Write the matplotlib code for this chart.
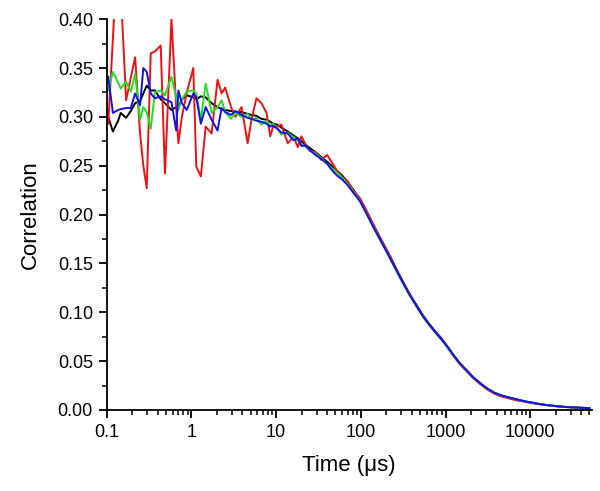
import matplotlib
matplotlib.use("Agg")
import matplotlib.pyplot as plt
from matplotlib.ticker import MultipleLocator, LogLocator, NullFormatter

plt.rcParams['font.family'] = ['Liberation Sans', 'DejaVu Sans']

# lag times (us), shared by all four curves
t_early = [0.104, 0.118, 0.136, 0.146, 0.169, 0.192, 0.216, 0.247, 0.27, 0.296,
           0.33, 0.37, 0.433, 0.486, 0.58, 0.66, 0.70, 0.77, 0.88, 1.05,
           1.14, 1.29, 1.47, 1.73, 2.03, 2.27, 2.5, 2.93, 3.3, 3.9,
           4.6, 5.1, 5.85, 6.7, 7.7, 8.5, 9.2]
t_late = [10.3, 11.5, 13.7, 16, 18, 19.9, 21.8, 25, 29, 34,
          40, 45, 52, 60, 70, 82, 97, 115, 135, 160,
          190, 225, 270, 320, 380, 450, 530, 630, 750, 900,
          1070, 1270, 1500, 1800, 2150, 2600, 3100, 3700, 4500, 5500,
          6800, 8500, 10500, 13000, 16500, 21000, 27000, 35000, 50000]
time = t_early + t_late

red = [0.293, 0.38, 0.48, 0.43, 0.317, 0.34, 0.361, 0.283, 0.25, 0.227,
       0.365, 0.367, 0.373, 0.242, 0.40, 0.31, 0.273, 0.30, 0.325, 0.35,
       0.249, 0.239, 0.29, 0.283, 0.338, 0.324, 0.33, 0.31, 0.30, 0.31,
       0.273, 0.297, 0.319, 0.314, 0.304, 0.28, 0.29,
       0.29, 0.292, 0.273, 0.28, 0.269, 0.28, 0.273, 0.265, 0.264, 0.256,
       0.261, 0.254, 0.245, 0.238, 0.234, 0.224, 0.217, 0.205, 0.193, 0.180,
       0.168, 0.156, 0.142, 0.129, 0.118, 0.107, 0.097, 0.088, 0.080, 0.072,
       0.063, 0.054, 0.046, 0.039, 0.032, 0.026, 0.021, 0.017, 0.014, 0.012,
       0.010, 0.0085, 0.007, 0.0058, 0.0047, 0.0037, 0.003, 0.0025, 0.0015]

black = [0.30, 0.285, 0.296, 0.304, 0.299, 0.306, 0.314, 0.316, 0.324, 0.332,
         0.327, 0.327, 0.318, 0.314, 0.307, 0.31, 0.31, 0.318, 0.322, 0.32,
         0.318, 0.321, 0.32, 0.314, 0.31, 0.308, 0.307, 0.306, 0.305, 0.305,
         0.303, 0.302, 0.301, 0.298, 0.297, 0.295, 0.293,
         0.292, 0.289, 0.285, 0.281, 0.278, 0.275, 0.272, 0.268, 0.264, 0.259,
         0.254, 0.250, 0.245, 0.240, 0.233, 0.225, 0.216, 0.204, 0.192, 0.180,
         0.168, 0.156, 0.142, 0.130, 0.118, 0.108, 0.098, 0.089, 0.081, 0.073,
         0.064, 0.055, 0.047, 0.040, 0.033, 0.027, 0.022, 0.018, 0.015, 0.013,
         0.011, 0.009, 0.0075, 0.006, 0.0048, 0.0038, 0.003, 0.0025, 0.002]

green = [0.327, 0.346, 0.335, 0.329, 0.336, 0.326, 0.344, 0.297, 0.31, 0.305,
         0.288, 0.325, 0.327, 0.322, 0.341, 0.32, 0.307, 0.318, 0.326, 0.327,
         0.324, 0.297, 0.334, 0.304, 0.31, 0.317, 0.305, 0.298, 0.304, 0.30,
         0.303, 0.297, 0.299, 0.292, 0.296, 0.291, 0.293,
         0.288, 0.282, 0.284, 0.279, 0.276, 0.272, 0.270, 0.266, 0.262, 0.258,
         0.252, 0.248, 0.243, 0.238, 0.231, 0.223, 0.214, 0.202, 0.190, 0.178,
         0.166, 0.154, 0.140, 0.128, 0.117, 0.106, 0.097, 0.088, 0.080, 0.072,
         0.063, 0.055, 0.047, 0.040, 0.033, 0.027, 0.022, 0.018, 0.015, 0.013,
         0.011, 0.009, 0.0075, 0.006, 0.0048, 0.0038, 0.003, 0.0024, 0.0018]

blue = [0.341, 0.304, 0.307, 0.308, 0.309, 0.309, 0.324, 0.312, 0.35, 0.346,
        0.324, 0.319, 0.321, 0.318, 0.315, 0.286, 0.327, 0.314, 0.307, 0.324,
        0.32, 0.293, 0.31, 0.297, 0.286, 0.309, 0.305, 0.302, 0.306, 0.302,
        0.299, 0.298, 0.296, 0.295, 0.293, 0.29, 0.291,
        0.288, 0.284, 0.283, 0.276, 0.278, 0.270, 0.271, 0.266, 0.261, 0.257,
        0.252, 0.246, 0.240, 0.236, 0.230, 0.222, 0.214, 0.202, 0.190, 0.178,
        0.166, 0.154, 0.141, 0.129, 0.117, 0.107, 0.097, 0.088, 0.080, 0.072,
        0.064, 0.055, 0.047, 0.040, 0.033, 0.027, 0.022, 0.018, 0.015, 0.013,
        0.011, 0.009, 0.0075, 0.006, 0.0048, 0.0038, 0.003, 0.0025, 0.0018]

xtick_vals = [0.1, 1, 10, 100, 1000, 10000]
xtick_labels = ["0.1", "1", "10", "100", "1000", "10000"]

fig = plt.figure(figsize=(6.0, 4.91), dpi=100)
ax = fig.add_axes([0.178, 0.165, 0.808, 0.796])

ax.plot(time, black, color='black', lw=1.4)
ax.plot(time, red, color='#ee1111', lw=1.4)
ax.plot(time, green, color='#22dd22', lw=1.4)
ax.plot(time, blue, color='#1111ee', lw=1.4)

ax.set_xscale('log')
ax.set_xlim(0.1, 53000)
ax.set_ylim(0, 0.40)

ax.set_xticks(xtick_vals)
ax.set_xticklabels(xtick_labels)
ax.xaxis.set_minor_locator(LogLocator(base=10, subs=range(2, 10)))
ax.xaxis.set_minor_formatter(NullFormatter())
ax.yaxis.set_major_locator(MultipleLocator(0.05))
ax.yaxis.set_minor_locator(MultipleLocator(0.025))
ax.yaxis.set_major_formatter(plt.FormatStrFormatter('%.2f'))

for s in ['top', 'right']:
    ax.spines[s].set_visible(False)
for s in ['left', 'bottom']:
    ax.spines[s].set_linewidth(1.3)

ax.tick_params(which='major', direction='out', length=6, width=1.3, labelsize=13, pad=4)
ax.tick_params(which='minor', direction='out', length=3.5, width=1.1)

ax.set_xlabel('Time (μs)', fontsize=16, labelpad=10)
ax.set_ylabel('Correlation', fontsize=16, labelpad=12)

fig.savefig('out.png', dpi=100)
